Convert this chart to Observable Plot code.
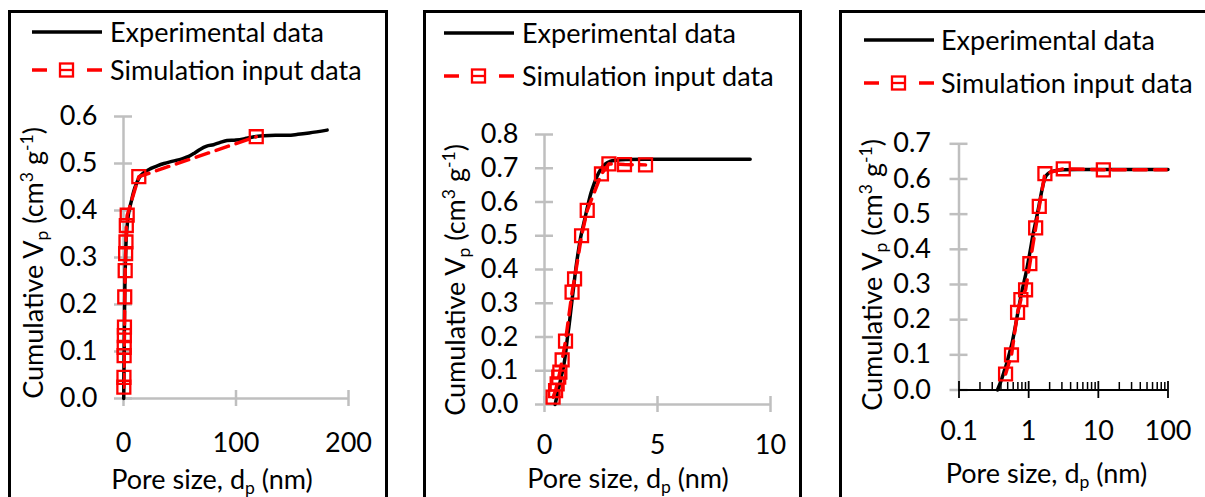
<!DOCTYPE html>
<html><head><meta charset="utf-8">
<script src="https://cdn.jsdelivr.net/npm/d3@7"></script>
<script src="https://cdn.jsdelivr.net/npm/@observablehq/plot@0.6"></script>
<style>
html,body{margin:0;padding:0;background:#fff;}
body{width:1205px;height:497px;overflow:hidden;position:relative;font-family:Lato,sans-serif;color:#000;}
.box{position:absolute;top:10px;height:520px;border:3px solid #000;box-sizing:border-box;}
.pw{position:absolute;top:0;}
.pw svg{overflow:visible;}
.lt{position:absolute;font-size:27px;line-height:27px;white-space:nowrap;}
.sw{position:absolute;}
.yt{position:absolute;font-size:27px;line-height:27px;white-space:nowrap;transform:translate(-50%,-50%) rotate(-90deg);}
.xt{position:absolute;font-size:27px;line-height:27px;white-space:nowrap;transform:translate(-50%,-50%);}
sub,sup{font-size:0.65em;line-height:0;}
sub{vertical-align:-0.3em;} sup{vertical-align:0.55em;}
</style></head><body>
<script>
// ---- text ----
const legendLabels = ["Experimental data", "Simulation input data"];
const xTitleHTML = "Pore size, d<sub>p</sub> (nm)";
const yTitleHTML = "Cumulative V<sub>p</sub> (cm<sup>3</sup> g<sup>-1</sup>)";

// ---- panel 1 (linear, 0-200 nm) ----
const p1XTicks = [0, 100, 200];
const p1YTicks = [0, 0.1, 0.2, 0.3, 0.4, 0.5, 0.6];
const p1ExpX = [0.2, 0.4, 0.6, 0.8, 1.0, 1.3, 1.7, 2.2, 3, 4, 5, 7, 9, 12, 14, 18, 24, 30, 36, 44, 52, 58, 63, 68, 74, 80, 86, 92, 100, 108, 116, 125, 135, 146, 155, 165, 181];
const p1ExpY = [0, 0.05, 0.1, 0.15, 0.2, 0.25, 0.29, 0.33, 0.36, 0.385, 0.40, 0.42, 0.44, 0.46, 0.47, 0.48, 0.489, 0.495, 0.5, 0.505, 0.51, 0.515, 0.522, 0.53, 0.537, 0.54, 0.545, 0.549, 0.55, 0.553, 0.557, 0.559, 0.56, 0.56, 0.562, 0.565, 0.571];
const p1SimX = [0.3, 0.4, 0.55, 0.65, 0.75, 0.85, 1.1, 1.5, 1.9, 2.2, 2.5, 3.3, 13.6, 118];
const p1SimY = [0.024, 0.045, 0.091, 0.109, 0.134, 0.152, 0.216, 0.272, 0.308, 0.333, 0.368, 0.390, 0.472, 0.557];

// ---- panel 2 (linear, 0-10 nm) ----
const p2XTicks = [0, 5, 10];
const p2YTicks = [0, 0.1, 0.2, 0.3, 0.4, 0.5, 0.6, 0.7, 0.8];
const p2ExpX = [0.47, 0.55, 0.65, 0.75, 0.85, 0.93, 1.0, 1.08, 1.15, 1.22, 1.3, 1.4, 1.5, 1.6, 1.75, 1.9, 2.05, 2.2, 2.35, 2.5, 2.7, 2.9, 3.2, 3.6, 4.5, 6, 7.5, 9.1];
const p2ExpY = [0, 0.025, 0.055, 0.085, 0.115, 0.15, 0.19, 0.23, 0.27, 0.31, 0.355, 0.41, 0.455, 0.495, 0.54, 0.585, 0.625, 0.655, 0.68, 0.698, 0.713, 0.72, 0.724, 0.726, 0.727, 0.727, 0.727, 0.727];
const p2SimX = [0.38, 0.49, 0.56, 0.63, 0.68, 0.78, 0.93, 1.22, 1.33, 1.64, 1.89, 2.52, 2.85, 3.54, 4.47];
const p2SimY = [0.022, 0.041, 0.061, 0.081, 0.096, 0.132, 0.188, 0.333, 0.372, 0.50, 0.575, 0.683, 0.713, 0.711, 0.710];

// ---- panel 3 (log, 0.1-100 nm) ----
const p3XTicks = [0.1, 1, 10, 100];
const p3XMinorTicks = [0.2, 0.3, 0.4, 0.5, 0.6, 0.7, 0.8, 0.9, 2, 3, 4, 5, 6, 7, 8, 9, 20, 30, 40, 50, 60, 70, 80, 90];
const p3YTicks = [0, 0.1, 0.2, 0.3, 0.4, 0.5, 0.6, 0.7];
const p3ExpX = [0.357, 0.40, 0.44, 0.481, 0.53, 0.587, 0.65, 0.708, 0.8, 0.933, 1.05, 1.16, 1.3, 1.42, 1.52, 1.62, 1.72, 1.85, 2.02, 2.5, 3.14, 5, 10, 30, 100];
const p3ExpY = [0, 0.025, 0.05, 0.074, 0.105, 0.14, 0.185, 0.226, 0.28, 0.34, 0.395, 0.444, 0.49, 0.529, 0.56, 0.586, 0.603, 0.613, 0.619, 0.624, 0.626, 0.627, 0.627, 0.627, 0.627];
const p3SimX = [0.466, 0.567, 0.693, 0.773, 0.903, 1.04, 1.26, 1.42, 1.71, 3.14, 11.8, 118];
const p3SimY = [0.0455, 0.0996, 0.221, 0.257, 0.285, 0.359, 0.461, 0.522, 0.615, 0.629, 0.626, 0.626];

const GRAY = "#bfbfbf";
const RED = "#ff0000";

const panels = [
  {expX: p1ExpX, expY: p1ExpY, simX: p1SimX, simY: p1SimY, xTicks: p1XTicks, yTicks: p1YTicks,
   xDomain: [0, 200], yDomain: [0, 0.6], log: false,
   svgLeft: 0, w: 405, ml: 123, mr: 57, mt: 116, mb: 99, yPad: 26, xPad: 34,
   box: [8, 380], leg: {x0: 32, tx: 110, rows: [32, 70]}, yt: [32, 263], xt: [212, 478]},
  {expX: p2ExpX, expY: p2ExpY, simX: p2SimX, simY: p2SimY, xTicks: p2XTicks, yTicks: p2YTicks,
   xDomain: [0, 10], yDomain: [0, 0.8], log: false,
   svgLeft: 405, w: 415, ml: 139, mr: 50, mt: 134, mb: 93, yPad: 26, xPad: 30,
   box: [423, 379], leg: {x0: 444, tx: 522, rows: [33, 76]}, yt: [454, 280], xt: [628, 477]},
  {expX: p3ExpX, expY: p3ExpY, simX: p3SimX, simY: p3SimY, xTicks: p3XTicks, yTicks: p3YTicks, minor: p3XMinorTicks,
   xDomain: [0.1, 100], yDomain: [0, 0.7], log: true,
   svgLeft: 820, w: 385, ml: 138.5, mr: 37.5, mt: 143.3, mb: 107.5, yPad: 28, xPad: 31,
   box: [839, 400], leg: {x0: 864, tx: 941, rows: [40, 83]}, yt: [871, 275], xt: [1046.5, 472]}
];

function el(tag, cls, html) { const e = document.createElement(tag); if (cls) e.className = cls; if (html != null) e.innerHTML = html; return e; }
const blank = () => "";

for (const c of panels) {
  const exp = c.expX.map((x, i) => ({x, y: c.expY[i]}));
  const sim = c.simX.map((x, i) => ({x, y: c.simY[i]}));
  const marks = [];
  marks.push(Plot.ruleX([c.xDomain[0]], {stroke: GRAY, strokeWidth: 2.5}));
  marks.push(Plot.axisY({ticks: c.yTicks, tickFormat: blank, label: null, tickSize: 18, dx: 9, stroke: GRAY, strokeWidth: 2.5}));
  marks.push(Plot.axisY({ticks: c.yTicks, tickFormat: d3.format(".1f"), label: null, tickSize: 0, tickPadding: c.yPad, fontSize: 27, fill: "#000"}));
  if (c.log) {
    marks.push(Plot.ruleY([0], {stroke: "#000", strokeWidth: 1.8}));
    marks.push(Plot.axisX({ticks: c.minor, tickFormat: blank, label: null, tickSize: 7, dy: -7.5, stroke: "#000", strokeWidth: 1.5}));
    marks.push(Plot.axisX({ticks: c.xTicks, tickFormat: blank, label: null, tickSize: 17, dy: -8.5, stroke: "#000", strokeWidth: 1.8}));
  } else {
    marks.push(Plot.ruleY([0], {stroke: GRAY, strokeWidth: 2.5}));
    marks.push(Plot.axisX({ticks: c.xTicks, tickFormat: blank, label: null, tickSize: 16, dy: -8, stroke: GRAY, strokeWidth: 2.5}));
  }
  marks.push(Plot.axisX({ticks: c.xTicks, tickFormat: d => String(d), label: null, tickSize: 0, tickPadding: c.xPad, fontSize: 27, fill: "#000"}));
  marks.push(Plot.line(exp, {x: "x", y: "y", stroke: "#000", strokeWidth: 3.5, curve: "monotone-x"}));
  marks.push(Plot.line(sim, {x: "x", y: "y", stroke: RED, strokeWidth: 3.5, strokeDasharray: "13,8", clip: true}));
  marks.push(Plot.dot(sim, {filter: d => d.x <= c.xDomain[1], x: "x", y: "y", symbol: "square", r: 7.3, stroke: RED, strokeWidth: 2.3, fill: "none"}));

  const svg = Plot.plot({
    width: c.w, height: 497,
    marginLeft: c.ml, marginRight: c.mr, marginTop: c.mt, marginBottom: c.mb,
    x: {domain: c.xDomain, type: c.log ? "log" : "linear", label: null},
    y: {domain: c.yDomain, label: null},
    style: {fontFamily: "Lato, sans-serif", fontSize: "27px", background: "transparent", overflow: "visible"},
    marks
  });

  const box = el("div", "box"); box.style.left = c.box[0] + "px"; box.style.width = c.box[1] + "px";
  document.body.appendChild(box);
  const pw = el("div", "pw"); pw.style.left = c.svgLeft + "px"; pw.appendChild(svg);
  document.body.appendChild(pw);

  legendLabels.forEach((lab, i) => {
    const yc = c.leg.rows[i];
    const sw = document.createElementNS("http://www.w3.org/2000/svg", "svg");
    sw.setAttribute("width", 70); sw.setAttribute("height", 20); sw.setAttribute("class", "sw");
    sw.style.left = c.leg.x0 + "px"; sw.style.top = (yc - 10) + "px";
    sw.innerHTML = i === 0
      ? `<line x1="0" x2="70" y1="10" y2="10" stroke="#000" stroke-width="3.5"/>`
      : `<line x1="0" x2="70" y1="10" y2="10" stroke="${RED}" stroke-width="3.5" stroke-dasharray="15,40"/>` +
        `<rect x="28" y="3.5" width="13" height="13" fill="none" stroke="${RED}" stroke-width="2.3"/>` +
        `<line x1="28" x2="41" y1="10" y2="10" stroke="${RED}" stroke-width="2.3"/>`;
    document.body.appendChild(sw);
    const t = el("div", "lt", lab); t.style.left = c.leg.tx + "px"; t.style.top = (yc - 14) + "px";
    document.body.appendChild(t);
  });
  const yt = el("div", "yt", yTitleHTML); yt.style.left = c.yt[0] + "px"; yt.style.top = c.yt[1] + "px";
  document.body.appendChild(yt);
  const xt = el("div", "xt", xTitleHTML); xt.style.left = c.xt[0] + "px"; xt.style.top = c.xt[1] + "px";
  document.body.appendChild(xt);
}
</script>
</body></html>
